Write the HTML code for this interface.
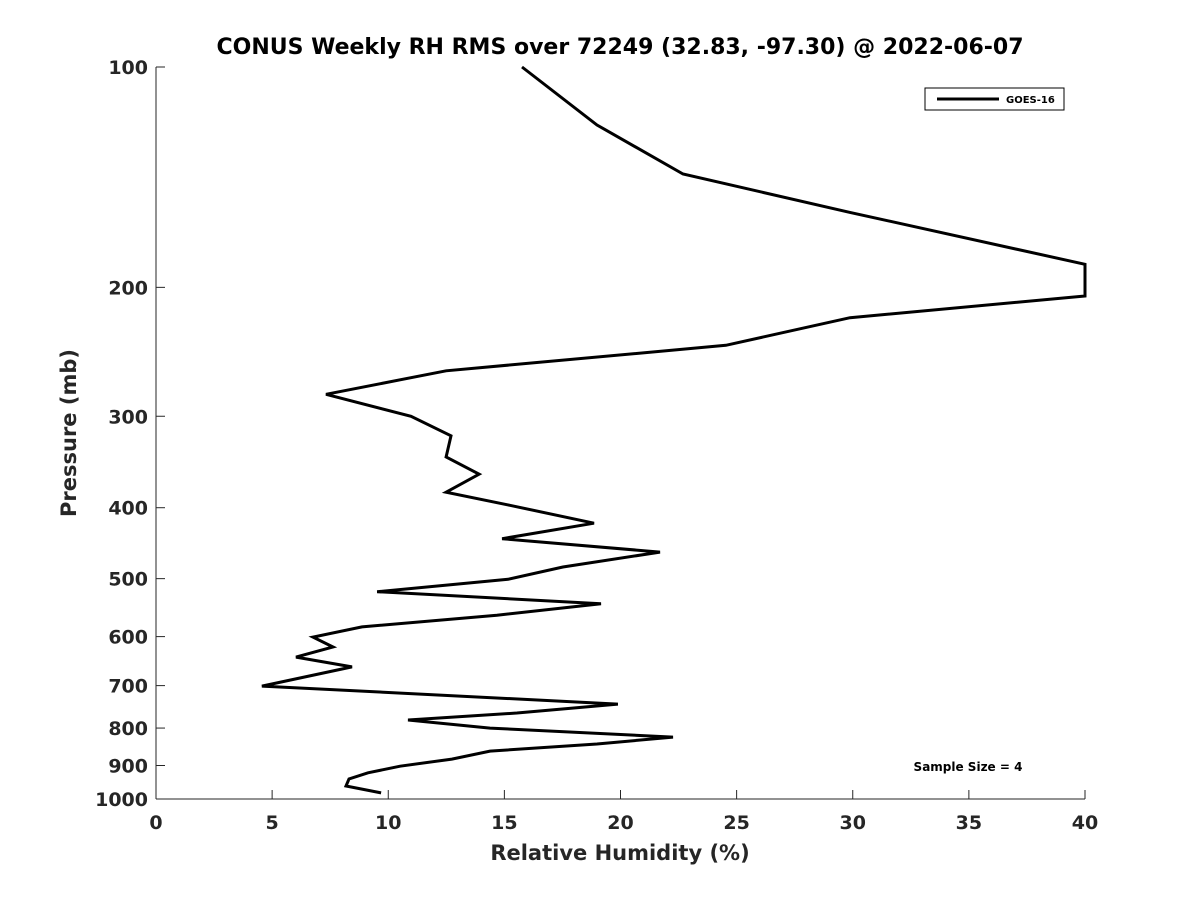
<!DOCTYPE html>
<html><head><meta charset="utf-8"><style>
body{margin:0;background:#fff;font-family:"Liberation Sans","DejaVu Sans",sans-serif}
svg text{font-family:"DejaVu Sans","Liberation Sans",sans-serif;font-weight:bold;fill:#262626}
</style></head><body>
<svg id="chart" width="1200" height="900">
<text x="620" y="54" text-anchor="middle" font-size="22" style="fill:#000">CONUS Weekly RH RMS over 72249 (32.83, -97.30) @ 2022-06-07</text>
<g id="axes"></g>
<path id="line" fill="none" stroke="#000" stroke-width="3"/>
<g>
<rect x="925" y="88" width="139" height="22" fill="#fff" stroke="#000" stroke-width="1"/>
<line x1="937" y1="99" x2="999" y2="99" stroke="#000" stroke-width="3"/>
<text x="1006" y="103" font-size="10" style="fill:#000">GOES-16</text>
</g>
<text x="968" y="771" text-anchor="middle" font-size="12" style="fill:#000">Sample Size = 4</text>
<text x="620" y="860" text-anchor="middle" font-size="21">Relative Humidity (%)</text>
<text transform="translate(76,433) rotate(-90)" text-anchor="middle" font-size="21">Pressure (mb)</text>
</svg>
<script>
const rhValues=[15.76,18.99,22.69,29.88,40,40,29.88,24.54,12.49,7.32,10.98,12.70,12.49,13.91,12.49,15.24,18.86,14.9,21.70,17.52,15.16,9.52,19.16,14.68,8.87,6.76,7.62,6.03,8.44,4.56,19.89,15.54,10.85,14.38,22.26,18.99,14.38,12.74,10.51,9.13,8.31,8.18,9.69];
const pressures=[100,120,140,158,186,205.5,220,240,260,280,300,319,341,360,381,397,420,441,460,482,501,521,541,561,582,601,620,640,660,701,742,763,780,800,823,841,860,882,902,921,939,960,981];
const xTicks=[0,5,10,15,20,25,30,35,40];
const yTicks=[100,200,300,400,500,600,700,800,900,1000];
const X0=156,X1=1085,Y0=67,Y1=799;
const xs=v=>X0+(v-0)/40*(X1-X0);
const ys=p=>Y0+Math.log10(p/100)*(Y1-Y0);
const NS="http://www.w3.org/2000/svg";
const ax=document.getElementById('axes');
function mk(t,a){const e=document.createElementNS(NS,t);for(const k in a)e.setAttribute(k,a[k]);ax.appendChild(e);return e;}
let l=mk('line',{x1:X0,y1:Y0,x2:X0,y2:Y1,stroke:'#262626','stroke-width':1});


l=mk('line',{x1:X0,y1:Y1,x2:X1,y2:Y1,stroke:'#262626','stroke-width':1});


xTicks.forEach(v=>{const x=xs(v);
mk('line',{x1:x,y1:Y1,x2:x,y2:Y1-9,stroke:'#262626'});
const t=mk('text',{x:x,y:Y1+30,'text-anchor':'middle','font-size':19});t.textContent=v;

});
yTicks.forEach(v=>{const y=ys(v);
mk('line',{x1:X0,y1:y,x2:X0+9,y2:y,stroke:'#262626'});
const t=mk('text',{x:X0-8,y:y+7,'text-anchor':'end','font-size':19});t.textContent=v;

});
document.getElementById('line').setAttribute('d',rhValues.map((v,i)=>(i?'L':'M')+xs(v).toFixed(1)+','+ys(pressures[i]).toFixed(1)).join(''));
</script>
</body></html>
